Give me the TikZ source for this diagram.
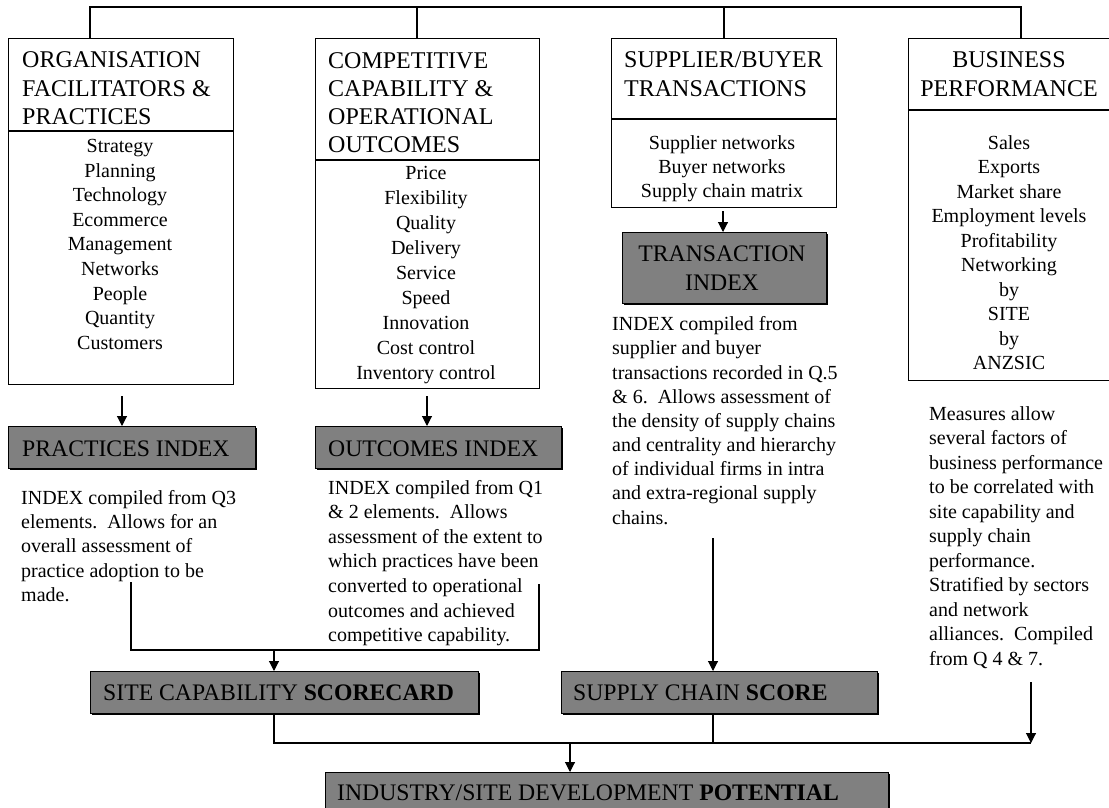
\documentclass[tikz,border=0pt]{standalone}
\usepackage{fontspec}
\setmainfont{Liberation Serif}
\usetikzlibrary{arrows.meta,shadows}
\definecolor{boxgrey}{RGB}{128,128,128}
\tikzset{
  wbox/.style={draw=black,line width=1.1pt,fill=white,inner sep=0pt,anchor=north west},
  gbox/.style={draw=black,line width=1pt,fill=boxgrey,inner sep=0pt,anchor=north west,
    drop shadow={shadow xshift=1.6pt,shadow yshift=-1.6pt,fill=black,opacity=1}},
  ln/.style={line width=1.1pt},
  arr/.style={line width=1.1pt,-{Triangle[width=10pt,length=10pt]}},
  hdr/.style={inner sep=0pt,font=\fontsize{24}{28.3}\selectfont,anchor=base west,align=left},
  hdrc/.style={inner sep=0pt,font=\fontsize{24}{28.3}\selectfont,anchor=base,align=center},
  items/.style={inner sep=0pt,anchor=base,align=center},
  para/.style={inner sep=0pt,anchor=base west,align=left},
  gtxt/.style={inner sep=0pt,font=\fontsize{23.7}{28.3}\selectfont,anchor=base west},
}
\begin{document}
\begin{tikzpicture}[x=1pt,y=-1pt]
\useasboundingbox (0,0) rectangle (1109,808);
% top boxes
\node[wbox,minimum width=225pt,minimum height=346pt] (org) at (8,38) {};
\node[wbox,minimum width=224pt,minimum height=350pt] (comp) at (315,38) {};
\node[wbox,minimum width=225pt,minimum height=169pt] (sup) at (611,38) {};
\node[wbox,minimum width=203pt,minimum height=342pt] (bus) at (908,38) {};
\draw[ln] (org.west |- 0,131) -- (org.east |- 0,131);
\draw[ln] (comp.west |- 0,160) -- (comp.east |- 0,160);
\draw[ln] (sup.west |- 0,119) -- (sup.east |- 0,119);
\draw[ln] (bus.west |- 0,110) -- (bus.east |- 0,110);
% top bus
\coordinate (t1) at (90,7);
\coordinate (t2) at (417,7);
\coordinate (t3) at (724,7);
\coordinate (t4) at (1021,7);
\draw[ln] (t1 |- org.north) -- (t1) -- (t4) -- (t4 |- bus.north);
\draw[ln] (t2) -- (t2 |- comp.north);
\draw[ln] (t3) -- (t3 |- sup.north);
% headers (base anchor = baseline of last line)
\node[hdr] (orgh) at (22,124.6) {ORGANISATION\\FACILITATORS \&\\PRACTICES};
\node[hdr] (comph) at (328,152.9) {COMPETITIVE\\CAPABILITY \&\\OPERATIONAL\\OUTCOMES};
\node[hdr] (suph) at (624,96.3) {SUPPLIER/BUYER\\TRANSACTIONS};
\node[hdrc] (bush) at (1009,96.3) {BUSINESS\\PERFORMANCE};
% items
\node[items,font=\fontsize{20}{24.6}\selectfont] (orgi) at (120,349.3)
  {Strategy\\Planning\\Technology\\Ecommerce\\Management\\Networks\\People\\Quantity\\Customers};
\node[items,font=\fontsize{20}{25}\selectfont] (compi) at (426,379.5)
  {Price\\Flexibility\\Quality\\Delivery\\Service\\Speed\\Innovation\\Cost control\\Inventory control};
\node[items,font=\fontsize{20}{24}\selectfont] (supi) at (722,197.5)
  {Supplier networks\\Buyer networks\\Supply chain matrix};
\node[items,font=\fontsize{20}{24.44}\selectfont] (busi) at (1009,369.5)
  {Sales\\Exports\\Market share\\Employment levels\\Profitability\\Networking\\by\\SITE\\by\\ANZSIC};
% grey index boxes
\node[gbox,minimum width=247pt,minimum height=42pt] (pidx) at (8,426) {};
\node[gbox,minimum width=246pt,minimum height=42pt] (oidx) at (315,426) {};
\node[gbox,minimum width=204pt,minimum height=71pt] (tidx) at (622,232) {};
\node[gbox,minimum width=388pt,minimum height=42pt] (site) at (90,671) {};
\node[gbox,minimum width=316pt,minimum height=42pt] (scs) at (561,671) {};
\node[gbox,minimum width=563pt,minimum height=50pt] (ind) at (325,772) {};
\node[gtxt] (pidxt) at (22,456) {PRACTICES INDEX};
\node[gtxt] (oidxt) at (328,456) {OUTCOMES INDEX};
\node[gtxt,anchor=base,align=center] (tidxt) at (722,290) {TRANSACTION\\INDEX};
\node[gtxt] (sitet) at (103,700.7) {SITE CAPABILITY \textbf{SCORECARD}};
\node[gtxt] (scst) at (573,700.7) {SUPPLY CHAIN \textbf{SCORE}};
\node[gtxt] (indt) at (337,800.7) {INDUSTRY/SITE DEVELOPMENT \textbf{POTENTIAL}};
% paragraphs
\node[para,font=\fontsize{20}{24.4}\selectfont] (ptext) at (21,601.6)
  {INDEX compiled from Q3\\elements.\enspace Allows for an\\overall assessment of\\practice adoption to be\\made.};
\node[para,font=\fontsize{20}{24.6}\selectfont] (otext) at (328,641.6)
  {INDEX compiled from Q1\\\& 2 elements.\enspace Allows\\assessment of the extent to\\which practices have been\\converted to operational\\outcomes and achieved\\competitive capability.};
\node[para,font=\fontsize{20}{24.16}\selectfont] (ttext) at (612,524)
  {INDEX compiled from\\supplier and buyer\\transactions recorded in Q.5\\\& 6.\enspace Allows assessment of\\the density of supply chains\\and centrality and hierarchy\\of individual firms in intra\\and extra-regional supply\\chains.};
\node[para,font=\fontsize{20}{24.5}\selectfont] (btext) at (929,665)
  {Measures allow\\several factors of\\business performance\\to be correlated with\\site capability and\\supply chain\\performance.\\Stratified by sectors\\and network\\alliances.\enspace Compiled\\from Q 4 \& 7.};
% arrows from boxes to indexes
\coordinate (a1) at (122,396);
\draw[arr] (a1) -- (a1 |- pidx.north);
\coordinate (a2) at (427,396);
\draw[arr] (a2) -- (a2 |- oidx.north);
\coordinate (a3) at (723,211);
\draw[arr] (a3) -- (a3 |- tidx.north);
% bracket to site capability
\coordinate (b1) at (131,582);
\coordinate (b2) at (131,650);
\coordinate (b3) at (539,650);
\coordinate (b4) at (539,584);
\draw[ln] (b1) -- (b2) -- (b3) -- (b4);
\coordinate (b5) at (274,650);
\draw[arr] (b5) -- (b5 |- site.north);
% supply chain score
\coordinate (c1) at (713,538);
\draw[arr] (c1) -- (c1 |- scs.north);
% bottom bus
\coordinate (d1) at (274,743);
\coordinate (d2) at (1031,743);
\coordinate (d3) at (713,743);
\draw[ln] (d1 |- site.south) -- (d1) -- (d2);
\draw[ln] (d3 |- scs.south) -- (d3);
\coordinate (e1) at (1031,682);
\draw[arr] (e1) -- (d2);
\coordinate (f1) at (570,743);
\draw[arr] (f1) -- (f1 |- ind.north);
\end{tikzpicture}
\end{document}
